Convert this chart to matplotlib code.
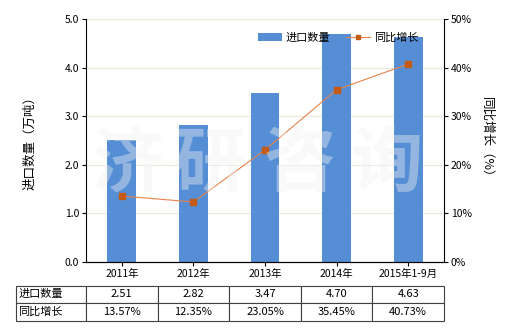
import matplotlib
matplotlib.use("Agg")
import matplotlib.pyplot as plt
import numpy as np

plt.rcParams['font.family'] = ['Noto Sans CJK SC', 'DejaVu Sans']

categories = ["2011年", "2012年", "2013年", "2014年", "2015年1-9月"]
import_qty = [2.51, 2.82, 3.47, 4.70, 4.63]
yoy_growth = [13.57, 12.35, 23.05, 35.45, 40.73]
qty_labels = ["2.51", "2.82", "3.47", "4.70", "4.63"]
growth_labels = ["13.57%", "12.35%", "23.05%", "35.45%", "40.73%"]
left_ticks = [0.0, 1.0, 2.0, 3.0, 4.0, 5.0]
right_ticks = [0, 10, 20, 30, 40, 50]
watermark_chars = ["济", "研", "咨", "询"]

bar_color = '#558ED5'
line_color = '#E8824A'
marker_color = '#C55A11'

fig = plt.figure(figsize=(5.2, 3.3), dpi=100)
ax = fig.add_axes([86/520, 1-262/330, (444-86)/520, (262-19)/330])
x = np.arange(len(categories))
ax.bar(x, import_qty, width=0.4, color=bar_color, zorder=2, label='进口数量')
ax.set_xlim(-0.5, len(categories)-0.5)
ax.set_ylim(0, 5)
ax.set_yticks(left_ticks)
ax.set_yticklabels([f"{v:.1f}" for v in left_ticks], fontsize=7.5)
ax.set_xticks(x)
ax.set_xticklabels(categories, fontsize=7.5)
ax.grid(axis='y', color='#EEEBDD', linewidth=0.8, zorder=0)
ax.set_axisbelow(True)
ax.spines['top'].set_visible(False)
ax.spines['right'].set_visible(False)
ax.tick_params(axis='both', length=3, width=0.8, pad=2)
ax.set_ylabel('进口数量（万吨）', fontsize=9, labelpad=20)

ax2 = ax.twinx()
ax2.plot(x, yoy_growth, color=line_color, linewidth=0.8, marker='s', markersize=5,
         markerfacecolor=marker_color, markeredgecolor=marker_color, zorder=3, label='同比增长')
ax2.set_ylim(0, 50)
ax2.set_yticks(right_ticks)
ax2.set_yticklabels([f"{v}%" for v in right_ticks], fontsize=7.5)
ax2.spines['top'].set_visible(False)
ax2.spines['left'].set_visible(False)
ax2.tick_params(axis='y', length=3, width=0.8, pad=2)
ax2.set_ylabel('同比增长（%）', fontsize=9, rotation=-90, labelpad=15)

# watermark
wm_x = [128, 210, 300, 387]
for ch, px in zip(watermark_chars, wm_x):
    fig.text(px/520, 1-165/330, ch, fontsize=52, color='#F2F2F2', alpha=0.4,
             ha='center', va='center', fontweight='bold', zorder=10)

h1, l1 = ax.get_legend_handles_labels()
h2, l2 = ax2.get_legend_handles_labels()
leg = fig.legend(h1 + h2, l1 + l2, loc='center left', bbox_to_anchor=(248/520, 1-38/330), ncol=2,
                 frameon=False, fontsize=8, handlelength=2.2, columnspacing=1.4, handletextpad=0.3,
                 markerscale=0.7)

# table
rows = [["进口数量"] + qty_labels, ["同比增长"] + growth_labels]
tab = ax.table(cellText=rows, bbox=[(16-86)/358, (262-320.7)/243, 428/358, 35/243],
               colWidths=[70] + [71.6]*5, cellLoc='center')
tab.auto_set_font_size(False)
tab.set_fontsize(8)
for (r, c), cell in tab.get_celld().items():
    cell.set_edgecolor('#404040')
    cell.set_linewidth(0.8)
    if c == 0:
        cell.set_text_props(ha='left')
        cell._loc = 'left'
        cell.PAD = 0.03

fig.savefig('out.png', dpi=100)
